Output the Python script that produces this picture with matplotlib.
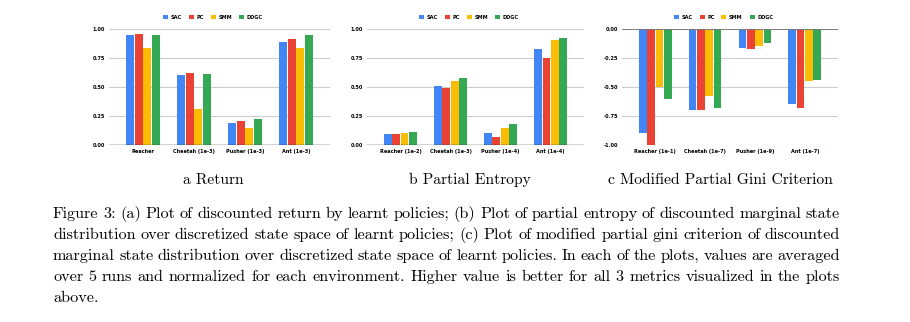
import matplotlib
matplotlib.use("Agg")
import matplotlib.pyplot as plt
import numpy as np

plt.rcParams['axes.unicode_minus'] = False

# data
methods = ['SAC', 'PC', 'SMM', 'DDGC']
colors = ['#4285F4', '#EA4335', '#FBBC04', '#34A853']

envs_a = ['Reacher', 'Cheetah (1e-3)', 'Pusher (1e-3)', 'Ant (1e-3)']
ret_sac = [0.95, 0.60, 0.19, 0.89]
ret_pc = [0.96, 0.62, 0.21, 0.91]
ret_smm = [0.84, 0.31, 0.15, 0.84]
ret_ddgc = [0.95, 0.61, 0.22, 0.95]

envs_b = ['Reacher (1e-2)', 'Cheetah (1e-3)', 'Pusher (1e-4)', 'Ant (1e-4)']
ent_sac = [0.095, 0.51, 0.107, 0.83]
ent_pc = [0.095, 0.49, 0.069, 0.75]
ent_smm = [0.107, 0.55, 0.15, 0.905]
ent_ddgc = [0.112, 0.58, 0.18, 0.922]

envs_c = ['Reacher (1e-1)', 'Cheetah (1e-7)', 'Pusher (1e-9)', 'Ant (1e-7)']
gini_sac = [-0.90, -0.70, -0.16, -0.65]
gini_pc = [-1.00, -0.70, -0.17, -0.68]
gini_smm = [-0.50, -0.58, -0.15, -0.45]
gini_ddgc = [-0.60, -0.68, -0.12, -0.44]

subtitles = ['a Return', 'b Partial Entropy', 'c Modified Partial Gini Criterion']
caption = [
    "Figure 3: (a) Plot of discounted return by learnt policies; (b) Plot of partial entropy of discounted marginal state",
    "distribution over discretized state space of learnt policies; (c) Plot of modified partial gini criterion of discounted",
    "marginal state distribution over discretized state space of learnt policies.  In each of the plots, values are averaged",
    "over 5 runs and normalized for each environment.  Higher value is better for all 3 metrics visualized in the plots",
    "above.",
]

W, H = 910, 322
fig = plt.figure(figsize=(W / 100, H / 100), dpi=100)


def px_axes(x0, x1, ytop, ybot):
    return fig.add_axes([x0 / W, 1 - ybot / H, (x1 - x0) / W, (ybot - ytop) / H])


def bar_panel(ax, envs, series, ylim, negative=False):
    x = np.arange(len(envs))
    w = 0.155
    for i, (vals, c, m) in enumerate(zip(series, colors, methods)):
        ax.bar(x + (i - 1.5) * (w + 0.012), vals, w, color=c, label=m, zorder=3)
    ax.set_xlim(-0.667, 3.667)
    ax.set_ylim(*ylim)
    ticks = np.linspace(ylim[0], ylim[1], 5)
    ax.set_yticks(ticks)
    ax.set_yticklabels(['%.2f' % t for t in ticks])
    ax.set_xticks(x)
    ax.set_xticklabels(envs)
    ax.tick_params(length=0, labelsize=3.6, pad=3)
    for t in ax.get_xticklabels() + ax.get_yticklabels():
        t.set_fontweight('bold')
    ax.yaxis.grid(True, color='#cccccc', lw=0.8, zorder=0)
    for s in ax.spines.values():
        s.set_visible(False)
    if negative:
        ax.axhline(0, color='#777777', lw=1.3, zorder=4)
    else:
        ax.axhline(0, color='#333333', lw=1.0, zorder=4)
    leg = ax.legend(loc='lower center', bbox_to_anchor=(0.47, 1.06), ncol=4, frameon=False,
                    fontsize=3.6, handlelength=1.0, handleheight=1.0, handletextpad=0.5,
                    columnspacing=1.4, borderpad=0)
    for t in leg.get_texts():
        t.set_fontweight('bold')


ax1 = px_axes(109, 330, 29, 145)
bar_panel(ax1, envs_a, [ret_sac, ret_pc, ret_smm, ret_ddgc], (0, 1))
ax2 = px_axes(367, 584, 29, 145)
bar_panel(ax2, envs_b, [ent_sac, ent_pc, ent_smm, ent_ddgc], (0, 1))
ax3 = px_axes(622, 838, 29, 145)
bar_panel(ax3, envs_c, [gini_sac, gini_pc, gini_smm, gini_ddgc], (-1, 0), negative=True)

for xc, s in zip([213, 470, 720], subtitles):
    fig.text(xc / W, 1 - 180 / H, s, ha='center', va='center', fontsize=11.2, family='cmr10')

# justified caption block, 53px to 840px
renderer = fig.canvas.get_renderer()
x_left, x_right = 53, 840
cap_size = 11.7
for i, line in enumerate(caption):
    y = 1 - (214 + i * 21) / H
    words = line.split()
    if i == len(caption) - 1:
        fig.text(x_left / W, y, line, ha='left', va='center', fontsize=cap_size, family='cmr10')
        continue
    texts = [fig.text(0, y, wd, ha='left', va='center', fontsize=cap_size, family='cmr10') for wd in words]
    widths = [t.get_window_extent(renderer).width for t in texts]
    gap = (x_right - x_left - sum(widths)) / (len(words) - 1)
    xpos = x_left
    for t, wdt in zip(texts, widths):
        t.set_x(xpos / W)
        xpos += wdt + gap

fig.savefig('out.png', dpi=100)
